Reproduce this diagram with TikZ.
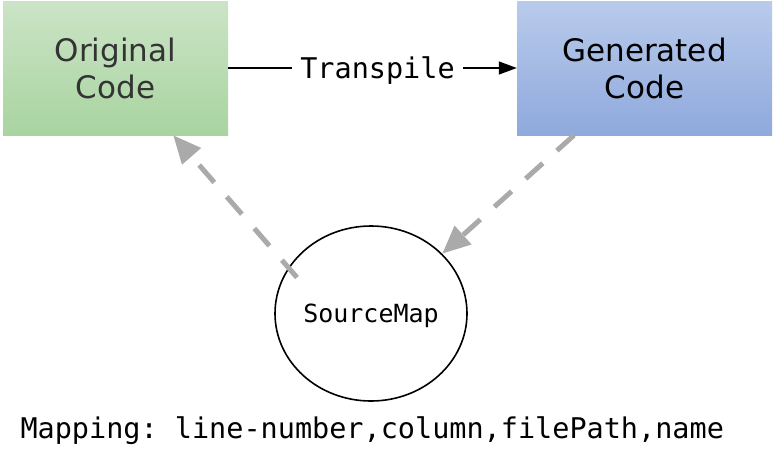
\documentclass[tikz,border=0pt]{standalone}
\usepackage{fontspec}
\setmainfont{DejaVu Sans}
\setmonofont{DejaVu Sans Mono}
\usetikzlibrary{calc, arrows.meta, shapes.geometric}
\definecolor{green_top}{HTML}{CBE4C6}
\definecolor{green_bottom}{HTML}{A9D4A0}
\definecolor{blue_top}{HTML}{B9CBEC}
\definecolor{blue_bottom}{HTML}{8FA9DC}
\definecolor{dark_text}{HTML}{333333}
\definecolor{map_grey}{HTML}{AAAAAA}

\begin{document}
\begin{tikzpicture}[x=1pt, y=-1pt,
	codebox/.style={minimum height=134pt, inner sep=0pt, align=center, font=\fontsize{31}{37}\selectfont},
	mono/.style={font=\fontsize{#1}{#1}\selectfont\ttfamily\frenchspacing},
	mapline/.style={map_grey, line width=5pt, dash pattern=on 23pt off 19pt, -{Triangle[length=28pt, width=24pt]}}]
	\useasboundingbox (0, 0) rectangle (775, 471);
	\node[codebox, minimum width=225pt, top color=green_top, bottom color=green_bottom, text=dark_text] (orig) at (115.5, 68) {Original\\Code};
	\node[codebox, minimum width=255pt, top color=blue_top, bottom color=blue_bottom] (gen) at (644.5, 68) {Generated\\Code};
	\node[mono=28.5, inner xsep=8pt, text height=20.5pt, text depth=0pt] (trans) at (377.5, 68) {Transpile};
	\node[ellipse, draw, line width=1.6pt, minimum width=192pt, minimum height=175pt, inner sep=0pt, mono=25, text height=18pt, text depth=0pt] (map) at (371, 313.5) {SourceMap};
	\node[mono=28.5, anchor=base west, inner sep=0pt] (mapping) at (20.3, 438) {Mapping: line-number,column,filePath,name};
	\draw[line width=1.3pt] (orig.east) -- (trans.west);
	\draw[line width=1.3pt, -{Triangle[length=18pt, width=13pt]}] (trans.east) -- (gen.west);
	\coordinate (orig_in) at ($(orig.south west)!0.756!(orig.south east)$);
	\coordinate (gen_out) at ($(gen.south west)!0.224!(gen.south east)$);
	\coordinate (map_out) at ($(map.center) + (-74, -36)$);
	\draw[mapline] (map_out) -- (orig_in);
	\draw[mapline] (gen_out) -- (map.40);
\end{tikzpicture}
\end{document}
